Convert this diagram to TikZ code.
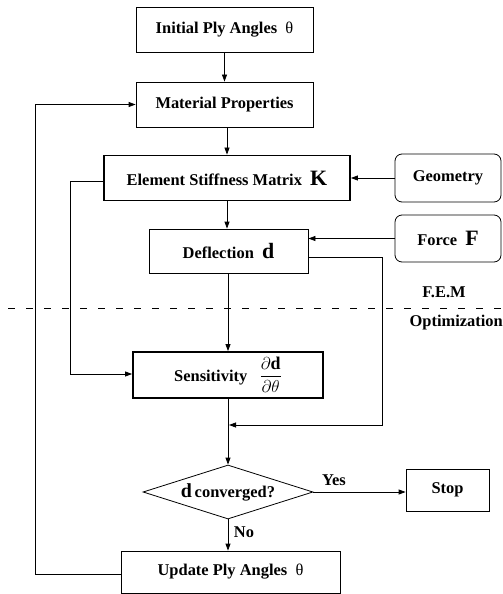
\documentclass[tikz,border=0pt]{standalone}
\usepackage{amsmath}
\usepackage{fontspec}
\setmainfont{Liberation Serif}
\usetikzlibrary{shapes.geometric,arrows.meta}
\newcommand{\thet}{{\mdseries θ}}
\newcommand{\bigsym}[1]{{\fontsize{22}{22}\selectfont$\mathbf{#1}$}}
\begin{document}
\begin{tikzpicture}[x=1bp,y=-1bp,
  font=\fontsize{16.5}{18}\selectfont\bfseries,
  box/.style={draw,line width=0.8bp,inner sep=0pt,align=center},
  thickbox/.style={box,line width=1.8bp},
  rbox/.style={box,rounded corners=7bp},
  conn/.style={line width=0.8bp},
  arr/.style={conn,-{Triangle[length=7bp,width=5bp]}},
  lbl/.style={inner sep=0pt}]
\useasboundingbox (0,0) rectangle (503,594);
\node[box,minimum width=177bp,minimum height=45bp] (init) at (224.5,29.5) {Initial Ply Angles\ \ \thet};
\node[box,minimum width=177bp,minimum height=45bp] (mat) at (224.5,104.5) {Material Properties};
\node[thickbox,minimum width=246bp,minimum height=45bp] (esm) at (227,178) {Element Stiffness Matrix\ \ \bigsym{K}};
\node[rbox,minimum width=106bp,minimum height=48bp] (geo) at (448,178) {Geometry};
\node[box,minimum width=159bp,minimum height=44bp] (defl) at (228.5,251) {Deflection\ \ \bigsym{d}};
\node[rbox,minimum width=106bp,minimum height=47bp] (force) at (448,238.5) {Force\ \ \bigsym{F}};
\node[thickbox,minimum width=190bp,minimum height=46bp] (sens) at (228,375) {Sensitivity\ \ \ {\fontsize{18}{18}\selectfont$\dfrac{\partial\mathbf{d}}{\partial\theta}$}};
\node[draw,line width=0.8bp,diamond,aspect=3.15,inner sep=0pt,minimum width=170bp,minimum height=54bp] (conv) at (228,492) {{\fontsize{20}{20}\selectfont$\mathbf{d}$}\,converged?};
\node[box,minimum width=83bp,minimum height=42bp] (stop) at (447.5,490) {Stop};
\node[box,minimum width=219bp,minimum height=42bp] (upd) at (230.5,572) {Update Ply Angles\ \ \thet};
% labels
\node[lbl] (fem) at (444,292) {F.E.M};
\node[lbl,anchor=east] (opt) at (503,323) {Optimization};
\node[lbl] (yes) at (334,480) {Yes};
\node[lbl] (no) at (244,532) {No};
% dashed separator
\coordinate (dl) at (8,308);
\coordinate (dr) at (503,308);
\draw[conn,dash pattern=on 7bp off 11bp] (dl) -- (dr);
% connectors
\draw[arr] (init.south) -- (init.south |- mat.north);
\draw[arr] (esm.north |- mat.south) -- (esm.north);
\draw[arr] (geo.west) -- (esm.east);
\draw[arr] (esm.south) -- (esm.south |- defl.north);
\draw[arr] (force.west) -- (force.west -| defl.east);
\draw[arr] (sens.north |- defl.south) -- (sens.north);
\draw[arr] (sens.south) -- (conv.north);
\draw[arr] (conv.east) -- (conv.east -| stop.west);
\draw[arr] (conv.south) -- (conv.south |- upd.north);
\coordinate (lx1) at (35,574);
\coordinate (lx2) at (35,104.5);
\draw[arr] (upd.west |- lx1) -- (lx1) -- (lx2) -- (mat.west);
\coordinate (ex1) at (70,181);
\coordinate (ex2) at (70,374);
\draw[arr] (esm.west |- ex1) -- (ex1) -- (ex2) -- (sens.west |- ex2);
\coordinate (d1) at (382,257);
\coordinate (d2) at (382,425);
\coordinate (d3) at (229,425);
\draw[arr] (defl.east |- d1) -- (d1) -- (d2) -- (d3);
\end{tikzpicture}
\end{document}
